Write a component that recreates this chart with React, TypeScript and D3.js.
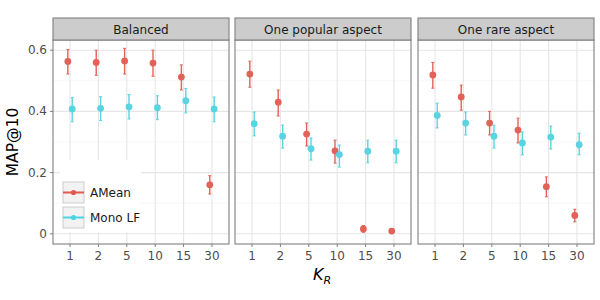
import React from 'react';
import * as d3 from 'd3';

const kValues = ['1', '2', '5', '10', '15', '30'];
const facets = ['Balanced', 'One popular aspect', 'One rare aspect'];
const seriesNames = ['AMean', 'Mono LF'];
const seriesColors = ['#E15A50', '#4FD3DF'];
const yTicks = [0, 0.2, 0.4, 0.6];
const yMinor = [0.1, 0.3, 0.5];

// [facet][series] -> values per K
const meanValues = [
  [
    [0.563, 0.56, 0.565, 0.558, 0.512, 0.16],
    [0.408, 0.41, 0.415, 0.412, 0.435, 0.408],
  ],
  [
    [0.522, 0.43, 0.326, 0.271, 0.016, 0.009],
    [0.36, 0.319, 0.278, 0.259, 0.27, 0.27],
  ],
  [
    [0.519, 0.447, 0.362, 0.339, 0.154, 0.06],
    [0.387, 0.362, 0.319, 0.297, 0.316, 0.291],
  ],
];
const lowValues = [
  [
    [0.522, 0.518, 0.522, 0.515, 0.47, 0.13],
    [0.366, 0.37, 0.375, 0.373, 0.395, 0.366],
  ],
  [
    [0.479, 0.385, 0.287, 0.231, 0.005, 0.003],
    [0.32, 0.28, 0.241, 0.218, 0.232, 0.232],
  ],
  [
    [0.476, 0.404, 0.323, 0.297, 0.121, 0.039],
    [0.346, 0.323, 0.28, 0.258, 0.277, 0.258],
  ],
];
const highValues = [
  [
    [0.602, 0.6, 0.606, 0.6, 0.552, 0.19],
    [0.445, 0.448, 0.455, 0.451, 0.475, 0.447],
  ],
  [
    [0.564, 0.47, 0.362, 0.306, 0.027, 0.015],
    [0.398, 0.355, 0.313, 0.29, 0.306, 0.306],
  ],
  [
    [0.56, 0.486, 0.4, 0.378, 0.186, 0.08],
    [0.427, 0.398, 0.355, 0.333, 0.352, 0.329],
  ],
];

const font = '"DejaVu Sans", Verdana, sans-serif';

export default function App() {
  const panelLefts = [53, 235, 418];
  const panelW = 176;
  const top = 40;
  const bottom = 244;
  const stripTop = 18;

  const y = d3.scaleLinear().domain([-0.0333, 0.6333]).range([bottom, top]);
  const x = d3.scalePoint<string>().domain(kValues).range([0, panelW]).padding(0.6);
  const dodge = [-2.2, 2.2];

  return (
    <svg width={600} height={300} style={{ position: 'absolute', left: 0, top: 0 }} fontFamily={font}>
      <rect width={600} height={300} fill="#fff" />
      {facets.map((name, fi) => {
        const left = panelLefts[fi];
        return (
          <g key={name} transform={`translate(${left},0)`}>
            {/* grid */}
            {yMinor.map((v) => (
              <line key={'m' + v} x1={0} x2={panelW} y1={y(v)} y2={y(v)} stroke="#F2F2F2" strokeWidth={0.6} />
            ))}
            {yTicks.map((v) => (
              <line key={'g' + v} x1={0} x2={panelW} y1={y(v)} y2={y(v)} stroke="#E6E6E6" strokeWidth={1.1} />
            ))}
            {kValues.map((k) => (
              <line key={'v' + k} x1={x(k)} x2={x(k)} y1={top} y2={bottom} stroke="#E6E6E6" strokeWidth={1.1} />
            ))}
            {/* legend background in first panel */}
            {fi === 0 && <rect x={7} y={160} width={81} height={72} fill="#fff" />}
            {/* data */}
            {seriesNames.map((s, si) => (
              <g key={s} fill={seriesColors[si]} stroke={seriesColors[si]} opacity={0.95}>
                {kValues.map((k, ki) => {
                  const cx = (x(k) as number) + dodge[si];
                  const yl = y(lowValues[fi][si][ki]);
                  const yh = y(highValues[fi][si][ki]);
                  return (
                    <g key={k}>
                      <line x1={cx} x2={cx} y1={yl} y2={yh} strokeWidth={1.4} />
                      <line x1={cx - 1.5} x2={cx + 1.5} y1={yl} y2={yl} strokeWidth={1} />
                      <line x1={cx - 1.5} x2={cx + 1.5} y1={yh} y2={yh} strokeWidth={1} />
                      <circle cx={cx} cy={y(meanValues[fi][si][ki])} r={3.4} stroke="none" />
                    </g>
                  );
                })}
              </g>
            ))}
            {/* border */}
            <rect x={0} y={top} width={panelW} height={bottom - top} fill="none" stroke="#7F7F7F" strokeWidth={1.1} />
            {/* strip */}
            <rect x={0} y={stripTop} width={panelW} height={top - stripTop} fill="#CCCCCC" stroke="#7F7F7F" strokeWidth={1.1} />
            <text x={panelW / 2} y={(stripTop + top) / 2 + 4.5} textAnchor="middle" fontSize={12} fill="#1A1A1A">
              {name}
            </text>
            {/* x ticks */}
            {kValues.map((k) => (
              <g key={'t' + k}>
                <line x1={x(k)} x2={x(k)} y1={bottom} y2={bottom + 3} stroke="#7F7F7F" strokeWidth={1} />
                <text x={x(k)} y={bottom + 16} textAnchor="middle" fontSize={12} fill="#4D4D4D">
                  {k}
                </text>
              </g>
            ))}
          </g>
        );
      })}
      {/* y axis */}
      {yTicks.map((v) => (
        <g key={'y' + v}>
          <line x1={50} x2={53} y1={y(v)} y2={y(v)} stroke="#7F7F7F" strokeWidth={1} />
          <text x={47} y={y(v) + 4} textAnchor="end" fontSize={12} fill="#4D4D4D">
            {d3.format('~g')(v)}
          </text>
        </g>
      ))}
      <text transform={`translate(18,${(top + bottom) / 2}) rotate(-90)`} textAnchor="middle" fontSize={15.5} fill="#000">
        MAP@10
      </text>
      <text x={322} y={280} textAnchor="middle" fontSize={16} fill="#000" fontStyle="italic">
        K<tspan fontSize={11} dy={4}>R</tspan>
      </text>
      {/* legend */}
      {seriesNames.map((s, si) => {
        const ky = 182 + si * 25;
        return (
          <g key={'l' + s}>
            <rect x={63} y={ky} width={21} height={21} fill="#F2F2F2" stroke="#CCCCCC" strokeWidth={1} />
            <line x1={63} x2={84} y1={ky + 10.5} y2={ky + 10.5} stroke={seriesColors[si]} strokeWidth={2} />
            <circle cx={73.5} cy={ky + 10.5} r={2.6} fill={seriesColors[si]} />
            <text x={90} y={ky + 15} fontSize={12} fill="#1A1A1A">
              {s}
            </text>
          </g>
        );
      })}
    </svg>
  );
}
